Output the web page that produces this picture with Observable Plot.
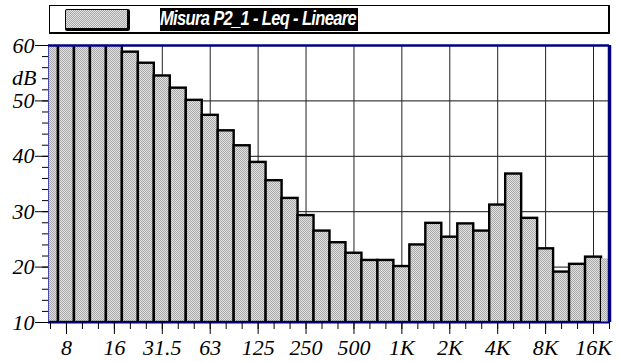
<!DOCTYPE html>
<html>
<head>
<meta charset="utf-8">
<script src="https://cdn.jsdelivr.net/npm/d3@7"></script>
<script src="https://cdn.jsdelivr.net/npm/@observablehq/plot@0.6"></script>
<style>
  body { margin: 0; background: #fff; }
  #wrap { position: relative; width: 620px; height: 362px; overflow: hidden; background: #fff; }
  #wrap svg { position: absolute; left: 0; top: 0; }
  #wrap svg text { font-family: "Liberation Serif", "Times New Roman", serif !important; font-style: italic !important; }
  .legend-box { position: absolute; left: 49px; top: 5px; width: 561px; height: 29px; box-sizing: border-box;
    border: 1px solid #000; border-right-width: 2px; border-bottom-width: 2px; background: #fff; }
  .legend-swatch { position: absolute; left: 65px; top: 9px; width: 65px; height: 22px; box-sizing: border-box;
    border: 1px solid #000; border-right-width: 3px; border-bottom-width: 3px; border-radius: 2px;
    background: repeating-conic-gradient(#a8a8a8 0 25%, #e2e2e2 0 50%) 0 0 / 2px 2px; }
  .legend-label { position: absolute; left: 160px; top: 8px; width: 198px; height: 23px; background: #000; overflow: hidden; }
  .legend-label span { position: absolute; left: 0px; top: -1px; white-space: nowrap; color: #fff;
    font: italic bold 20px "Liberation Sans", Arial, sans-serif; transform-origin: 0 0; letter-spacing: -0.8px; }
</style>
</head>
<body>
<div id="wrap">
  <div class="legend-box"></div>
  <div class="legend-swatch"></div>
  <div class="legend-label"><span id="series-name"></span></div>
</div>
<script>
// Third-octave band centre frequencies
const bands = ["6.3", "8", "10", "12.5", "16", "20", "25", "31.5", "40", "50", "63", "80",
  "100", "125", "160", "200", "250", "315", "400", "500", "630", "800",
  "1K", "1.25K", "1.6K", "2K", "2.5K", "3.15K", "4K", "5K", "6.3K", "8K",
  "10K", "12.5K", "16K", "20K"];

// Linear Leq per band, dB
const leq = [63.5, 64, 63, 62, 61, 58.8, 56.8, 54.5, 52.3, 50.1, 47.4, 44.6,
  41.9, 38.9, 35.6, 32.4, 29.3, 26.5, 24.4, 22.5, 21.2, 21.2,
  20.1, 24.0, 27.9, 25.4, 27.8, 26.5, 31.2, 36.8, 28.8, 23.3,
  19.1, 20.5, 21.8, 21.5];

const seriesName = "Misura P2_1 - Leq - Lineare";

// Octave labels on the frequency axis
const tickLabels = ["8", "16", "31.5", "63", "125", "250", "500", "1K", "2K", "4K", "8K", "16K"];
const yMajor = [10, 20, 30, 40, 50, 60];
const yMinor = d3.range(10, 61, 2);
const gridDb = [20, 30, 40, 50];

const data = bands.map((band, i) => ({i, band, leq: leq[i]}));
const octaveIdx = tickLabels.map(l => bands.indexOf(l));
const lastIdx = bands.length - 1;

const serif = "'Liberation Serif', 'Times New Roman', serif";
const textStyle = {fontFamily: serif, fontStyle: "italic", fontSize: 22, fill: "#000"};

const barOpts = {
  x1: d => d.i - 0.5,
  x2: d => d.i + 0.5,
  y1: () => 10,
  y2: "leq",
  fill: "url(#stipple)",
  clip: true
};

const chart = Plot.plot({
  width: 620,
  height: 362,
  marginTop: 45,
  marginBottom: 40,
  marginLeft: 48,
  marginRight: 11,
  x: {type: "linear", domain: [-0.125, lastIdx], label: null, axis: null},
  y: {domain: [10, 60], label: null, axis: null},
  style: {color: "#000", background: "transparent", overflow: "visible"},
  marks: [
    Plot.ruleY(gridDb, {stroke: "#111", strokeWidth: 1}),
    Plot.ruleX(octaveIdx, {stroke: "#222", strokeWidth: 1}),
    Plot.rect(data.filter(d => d.i < lastIdx), {...barOpts, stroke: "#000", strokeWidth: 2.4}),
    Plot.rect(data.filter(d => d.i === lastIdx), {...barOpts, stroke: "none"}),
    Plot.ruleX([-0.125], {stroke: "#4a4aa8", strokeWidth: 1}),
    Plot.ruleY([10], {stroke: "#000080", strokeWidth: 2}),
    Plot.ruleY([60], {stroke: "#000080", strokeWidth: 2.5}),
    Plot.ruleX([lastIdx], {stroke: "#000080", strokeWidth: 3.5}),
    Plot.axisY(yMinor, {tickSize: 6, tickFormat: () => "", label: null}),
    Plot.axisY(yMajor, {tickSize: 13, tickPadding: 1, ...textStyle, tickFormat: d => String(d), label: null}),
    Plot.axisX(d3.range(bands.length), {tickSize: 7, tickFormat: () => "", label: null}),
    Plot.axisX(octaveIdx, {tickSize: 12, tickPadding: 5, ...textStyle, tickFormat: i => bands[i], label: null}),
    Plot.text(["dB"], {frameAnchor: "top-left", dx: -12, dy: 24, textAnchor: "end", ...textStyle})
  ]
});

// Serif italic lettering for every label of the chart
d3.select(chart).selectAll("text")
  .style("font-family", serif)
  .style("font-style", "italic")
  .style("font-size", "22px");

// Stippled grey fill used by the bars
const defs = d3.select(chart).insert("defs", ":first-child");
const pat = defs.append("pattern").attr("id", "stipple")
  .attr("width", 2).attr("height", 2).attr("patternUnits", "userSpaceOnUse");
pat.append("rect").attr("width", 2).attr("height", 2).attr("fill", "#e2e2e2");
pat.append("rect").attr("width", 1).attr("height", 1).attr("fill", "#a8a8a8");
pat.append("rect").attr("x", 1).attr("y", 1).attr("width", 1).attr("height", 1).attr("fill", "#a8a8a8");

const wrap = document.getElementById("wrap");
wrap.insertBefore(chart, wrap.firstChild);

// Legend text squeezed to the width of its black label
const label = document.getElementById("series-name");
label.textContent = seriesName;
const w = label.getBoundingClientRect().width;
label.style.transform = `scaleX(${Math.min(1, 196 / w)})`;
</script>
</body>
</html>
